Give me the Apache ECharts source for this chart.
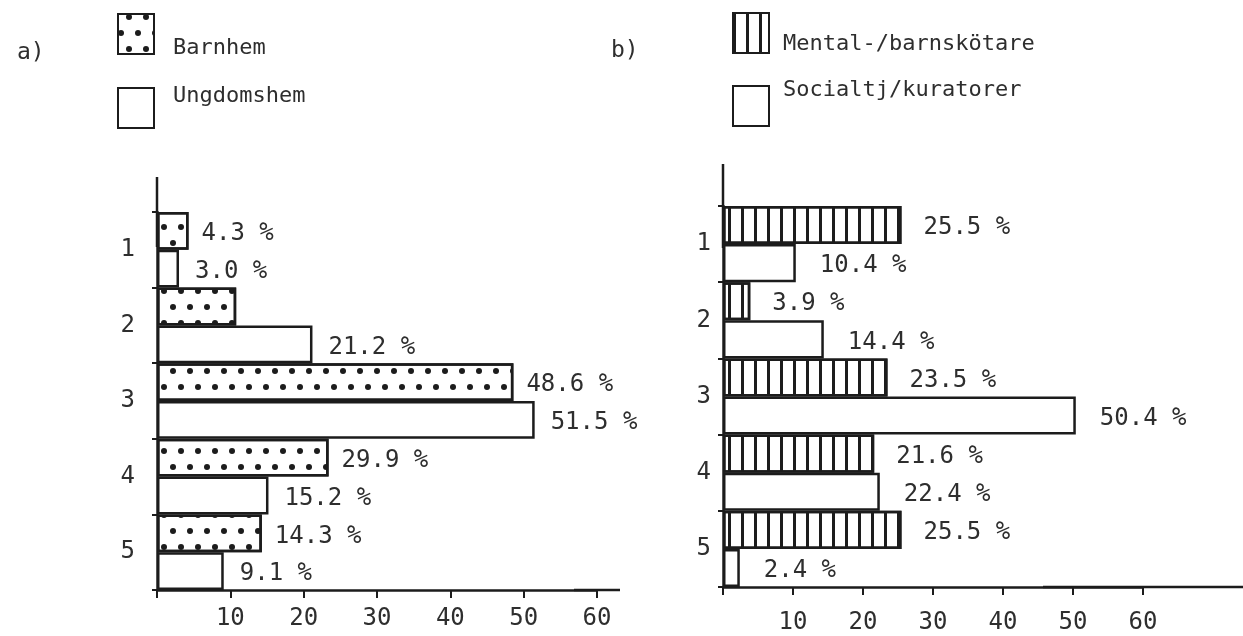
<!DOCTYPE html>
<html>
<head>
<meta charset="utf-8">
<script src="https://cdn.jsdelivr.net/npm/echarts@6/dist/echarts.min.js"></script>
<style>
html, body {margin: 0; padding: 0; background: #fff;}
#main {width: 1243px; height: 636px;}
</style>
</head>
<body>
<div id="main"></div>
<script>
// categories (rows 1-5)
var categories = ['1', '2', '3', '4', '5'];
// a) Barnhem / Ungdomshem
var barnhem = [4.3, 10.8, 48.6, 23.4, 14.3];
var barnhemText = ['4.3 %', '', '48.6 %', '29.9 %', '14.3 %'];
var ungdomshem = [3.0, 21.2, 51.5, 15.2, 9.1];
// b) Mental-/barnskötare / Socialtj/kuratorer
var mental = [25.5, 3.9, 23.5, 21.6, 25.5];
var social = [10.4, 14.4, 50.4, 22.4, 2.4];

var ink = '#1c1c1c';
var txt = '#2e2e2e';
var font = 'DejaVu Sans Mono';

var dots = {
    symbol: 'circle', symbolSize: 1, color: ink,
    dashArrayX: [[6, 11], [0, 8, 6, 3]],
    dashArrayY: [6, 10]
};
var stripes = {
    symbol: 'rect', symbolSize: 1, color: ink,
    dashArrayX: [3, 10],
    dashArrayY: [1, 0]
};

function pct(p) {
    return p.value.toFixed(1) + ' %';
}

function xAxisFor(grid, margin, ext) {
    return {
        gridIndex: grid, type: 'value', min: 0, max: 60, interval: 10,
        splitLine: {show: false},
        axisLine: {show: true, symbol: ['none', 'rect'], symbolSize: [2.5, ext * 2],
            lineStyle: {color: ink, width: 2.5}},
        axisTick: {show: true, length: 8, lineStyle: {color: ink, width: 2}},
        axisLabel: {margin: margin, fontFamily: font, fontSize: 24, color: txt,
            formatter: function (v) { return v === 0 ? '' : v; }}
    };
}

function yAxisFor(grid, margin, ext) {
    return {
        gridIndex: grid, type: 'category', data: categories, inverse: true,
        axisLine: {show: true, symbol: ['none', 'rect'], symbolSize: [2.5, ext * 2],
            lineStyle: {color: ink, width: 2.5}},
        axisTick: {show: true, length: 5, lineStyle: {color: ink, width: 2}},
        axisLabel: {margin: margin, fontFamily: font, fontSize: 24, color: txt}
    };
}

function barSeries(name, xi, data, decal, dist, fmt) {
    return {
        type: 'bar', name: name, xAxisIndex: xi, yAxisIndex: xi, data: data,
        barGap: '0%', barCategoryGap: '0%',
        itemStyle: {color: '#fff', borderColor: ink, borderWidth: 2.5, decal: decal},
        label: {show: true, position: 'right', distance: dist, offset: [0, 3],
            fontFamily: font, fontSize: 24, color: txt, formatter: fmt}
    };
}

function legendFor(left, top, gap, names, padLeft, down, up) {
    return {
        orient: 'vertical', left: left, top: top, padding: 0,
        icon: 'rect', itemWidth: 36, itemHeight: 40, itemGap: gap,
        data: names,
        formatter: function (name) {
            return (name === names[0] ? '{d|' : '{u|') + name + '}';
        },
        textStyle: {
            fontFamily: font, fontSize: 22, color: txt,
            rich: {
                d: {fontFamily: font, fontSize: 22, color: txt, padding: [down, 0, 0, padLeft]},
                u: {fontFamily: font, fontSize: 22, color: txt, padding: [0, 0, up, padLeft]}
            }
        }
    };
}

var myChart = echarts.init(document.getElementById('main'));
var option = {
    animation: false,
    backgroundColor: '#fff',
    title: [
        {text: 'a)', left: 12, top: 37, textStyle: {fontFamily: font, fontSize: 23, fontWeight: 'normal', color: txt}},
        {text: 'b)', left: 606, top: 35, textStyle: {fontFamily: font, fontSize: 23, fontWeight: 'normal', color: txt}}
    ],
    legend: [
        legendFor(117, 13, 26, ['Barnhem', 'Ungdomshem'], 14, 28, 24),
        legendFor(732, 12, 24, ['Mental-/barnskötare', 'Socialtj/kuratorer'], 9, 22, 32)
    ],
    grid: [
        {left: 157, top: 212, width: 440, height: 378},
        {left: 723, top: 206, width: 420, height: 381}
    ],
    xAxis: [xAxisFor(0, 17, 23), xAxisFor(1, 24, 100)],
    yAxis: [yAxisFor(0, 22, 35), yAxisFor(1, 12, 42)],
    series: [
        barSeries('Barnhem', 0, barnhem, dots, 13, function (p) { return barnhemText[p.dataIndex]; }),
        barSeries('Ungdomshem', 0, ungdomshem, null, 16, pct),
        barSeries('Mental-/barnskötare', 1, mental, stripes, 22, pct),
        barSeries('Socialtj/kuratorer', 1, social, null, 24, pct)
    ]
};
myChart.setOption(option);
window.onresize = myChart.resize;
</script>
</body>
</html>
